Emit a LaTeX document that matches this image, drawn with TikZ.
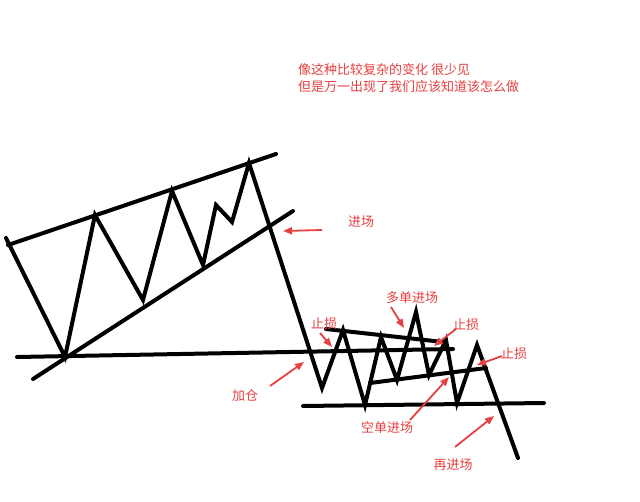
\documentclass[tikz,border=0pt]{standalone}
\usepackage{fontspec}
\newfontfamily\cjk{Noto Sans CJK SC}
\usetikzlibrary{arrows.meta}
\definecolor{lbl}{RGB}{232,64,64}
\tikzset{
  heavy/.style={line width=4pt, line join=miter, line cap=round},
  lab/.style={text=lbl, font=\cjk\fontsize{13}{15}\selectfont, inner sep=0pt},
  redarrow/.style={draw=lbl, line width=1.8pt, -{Triangle[length=9pt,width=7pt]}, shorten <=0pt}
}
\begin{document}
\begin{tikzpicture}[x=1pt,y=-1pt]
\useasboundingbox (0,0) rectangle (640,501);
\fill[white] (0,0) rectangle (640,501);
% price path coordinates
\coordinate (p0) at (6,238);
\coordinate (p1) at (65,357);
\coordinate (p2) at (95,215);
\coordinate (p3) at (143,300);
\coordinate (p4) at (172,191);
\coordinate (p5) at (203,265);
\coordinate (p6) at (216,205);
\coordinate (p7) at (232,222);
\coordinate (p8) at (249,163);
\coordinate (p9) at (322,388);
\coordinate (p10) at (343,330);
\coordinate (p11) at (365,405);
\coordinate (p12) at (381,337);
\coordinate (p13) at (397,380);
\coordinate (p14) at (416,312);
\coordinate (p15) at (429,375);
\coordinate (p16) at (446,340);
\coordinate (p17) at (457,403);
\coordinate (p18) at (477,345);
\coordinate (p19) at (518,458);
\draw[heavy] (p0)--(p1)--(p2)--(p3)--(p4)--(p5)--(p6)--(p7)--(p8)--(p9)--(p10)--(p11)--(p12)--(p13)--(p14)--(p15)--(p16)--(p17)--(p18)--(p19);
% trend lines
\coordinate (u1) at (8,245); \coordinate (u2) at (276,154);
\draw[heavy] (u1)--(u2);
\coordinate (l1) at (33,379); \coordinate (l2) at (293,211);
\draw[heavy] (l1)--(l2);
\coordinate (h1) at (17,357); \coordinate (h2) at (453,349);
\draw[heavy] (h1)--(h2);
\coordinate (c1) at (326,329); \coordinate (c2) at (443,342);
\draw[heavy] (c1)--(c2);
\coordinate (a1) at (370,383); \coordinate (a2) at (486,368);
\draw[heavy] (a1)--(a2);
\coordinate (b1) at (303,406); \coordinate (b2) at (544,403);
\draw[heavy] (b1)--(b2);
% top text
\node[lab, anchor=west] (t1) at (298,70) {像这种比较复杂的变化 很少见};
\node[lab, anchor=west] (t2) at (298,87) {但是万一出现了我们应该知道该怎么做};
% labels
\node[lab, anchor=west] (jc) at (348,222) {进场};
\node[lab] (jiacang) at (245,396) {加仓};
\node[lab] (zs1) at (324,324) {止损};
\node[lab] (dd) at (412,298) {多单进场};
\node[lab] (zs2) at (466,325) {止损};
\node[lab] (zs3) at (514,354) {止损};
\node[lab] (kd) at (387,428) {空单进场};
\node[lab] (zjc) at (453,465) {再进场};
% arrow tips
\coordinate (jcS) at (322,230); \coordinate (jcT) at (283,231);
\coordinate (jiaS) at (270,386); \coordinate (jiaT) at (304,362);
\coordinate (z1S) at (320,333); \coordinate (z1T) at (332,347);
\coordinate (ddS) at (391,307); \coordinate (ddT) at (404,328);
\coordinate (z2S) at (456,329); \coordinate (z2T) at (434,346);
\coordinate (z3S) at (502,356); \coordinate (z3T) at (477,365);
\coordinate (kdS) at (410,420); \coordinate (kdT) at (449,377);
\coordinate (zjS) at (455,447); \coordinate (zjT) at (494,416);
\draw[redarrow] (jcS)--(jcT);
\draw[redarrow] (jiaS)--(jiaT);
\draw[redarrow] (z1S)--(z1T);
\draw[redarrow] (ddS)--(ddT);
\draw[redarrow] (z2S)--(z2T);
\draw[redarrow] (z3S)--(z3T);
\draw[redarrow] (kdS)--(kdT);
\draw[redarrow] (zjS)--(zjT);
\end{tikzpicture}
\end{document}
